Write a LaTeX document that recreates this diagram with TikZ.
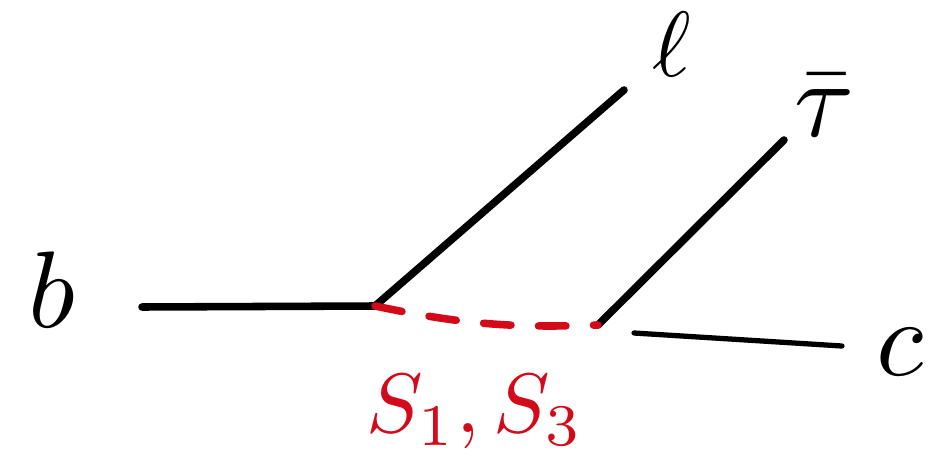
\documentclass[tikz,border=0pt]{standalone}
\definecolor{penred}{RGB}{210,10,25}
\begin{document}
\begin{tikzpicture}[x=0.02cm, y=-0.02cm,
  leg/.style={line width=4.3pt, line cap=round},
  lbl/.style={inner sep=0pt, scale=6.2},
  cut/.style={penred, line width=4.3pt, line cap=round,
              dash pattern=on 0.55cm off 0.55cm},
  cutlbl/.style={penred, inner sep=0pt, scale=4.8}
]
  \useasboundingbox (0,0) rectangle (934,470);
  % vertices and free ends
  \coordinate (v1) at (375,306);
  \coordinate (v2) at (598,325);
  \coordinate (bend) at (142,307);
  \coordinate (lend) at (624,90);
  \coordinate (tend) at (784,140);
  \coordinate (cstart) at (634,333);
  \coordinate (cend) at (842,346);
  % labels
  \node[lbl, scale=0.85] (l) at (672,44) {$\ell$};
  \node[lbl] (b) at (52,290) {$b$};
  \node[lbl] (taubar) at (824,106) {$\bar{\tau}$};
  \node[lbl] (c) at (900,352) {$c$};
  \node[cutlbl] (cutname) at (475,412) {$S_1, S_3$};
  % legs
  \draw[leg] (bend) -- (v1) -- (lend);
  \draw[leg] (v2) -- (tend);
  \draw[leg, line width=3pt] (cstart) -- (cend);
  \draw[cut] (v1) to[bend right=7] (v2);
\end{tikzpicture}
\end{document}
